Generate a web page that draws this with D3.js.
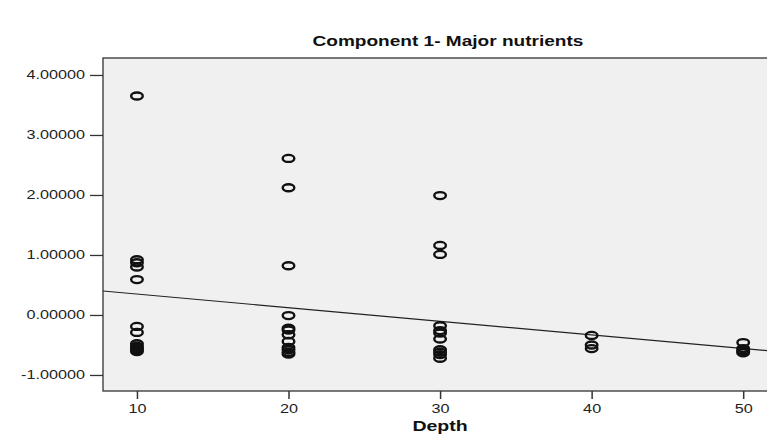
<!DOCTYPE html>
<html>
<head>
<meta charset="utf-8">
<script src="https://cdn.jsdelivr.net/npm/d3@7"></script>
<style>
  body { margin: 0; background: #fff; }
  svg { font-family: "Liberation Sans", Arial, sans-serif; }
</style>
</head>
<body>
<div id="chart"></div>
<script>
// depth groups and the component scores
var depths = [10, 20, 30, 40, 50];
var scores10 = [3.65, 0.92, 0.87, 0.80, 0.59, -0.19, -0.29, -0.48, -0.52, -0.55, -0.58, -0.61];
var scores20 = [2.61, 2.12, 0.82, -0.01, -0.22, -0.25, -0.33, -0.44, -0.54, -0.58, -0.62, -0.65];
var scores30 = [1.99, 1.16, 1.01, -0.18, -0.26, -0.30, -0.40, -0.58, -0.62, -0.66, -0.72];
var scores40 = [-0.34, -0.50, -0.56];
var scores50 = [-0.46, -0.56, -0.59, -0.61, -0.63];
var yTicks = [-1, 0, 1, 2, 3, 4];
var xTicks = [10, 20, 30, 40, 50];
// fit line (linear)
var fitIntercept = 0.576;
var fitSlope = -0.0227;

var title = "Component 1- Major nutrients";
var xTitle = "Depth";

var svgWidth = 767, svgHeight = 437;
var plot = { left: 103, top: 58, right: 772, bottom: 391 };

var svg = d3.select("#chart").append("svg")
  .attr("width", svgWidth)
  .attr("height", svgHeight);

var x = d3.scaleLinear().domain([7.76, 51.9]).range([plot.left, plot.right]);
var y = d3.scaleLinear().domain([-1.267, 4.283]).range([plot.bottom, plot.top]);

// the source picture is stretched sideways, so widen the text to match
function stretch(sel, factor) {
  sel.each(function() {
    var w = this.getComputedTextLength();
    d3.select(this)
      .attr("textLength", w * factor)
      .attr("lengthAdjust", "spacingAndGlyphs");
  });
}

// plot background
svg.append("rect")
  .attr("x", plot.left).attr("y", plot.top)
  .attr("width", plot.right - plot.left)
  .attr("height", plot.bottom - plot.top)
  .attr("fill", "#f0f0f0")
  .attr("stroke", "#333")
  .attr("stroke-width", 1.3);

// points
var allScores = [scores10, scores20, scores30, scores40, scores50];
var points = [];
depths.forEach(function(d, i) {
  allScores[i].forEach(function(v) { points.push({ depth: d, score: v }); });
});

svg.append("clipPath").attr("id", "plotclip")
  .append("rect")
  .attr("x", plot.left).attr("y", plot.top)
  .attr("width", plot.right - plot.left)
  .attr("height", plot.bottom - plot.top);

// fit line
svg.append("line")
  .attr("clip-path", "url(#plotclip)")
  .attr("x1", x(x.domain()[0])).attr("y1", y(fitIntercept + fitSlope * x.domain()[0]))
  .attr("x2", x(x.domain()[1])).attr("y2", y(fitIntercept + fitSlope * x.domain()[1]))
  .attr("stroke", "#222")
  .attr("stroke-width", 1.2);

svg.append("g").selectAll("ellipse")
  .data(points)
  .enter()
  .append("ellipse")
  .attr("cx", d => x(d.depth))
  .attr("cy", d => y(d.score))
  .attr("rx", 5.8)
  .attr("ry", 3.5)
  .attr("fill", "none")
  .attr("stroke", "#111")
  .attr("stroke-width", 2.4);

// y axis
var leftAxis = d3.axisLeft(y)
  .tickValues(yTicks)
  .tickSize(13)
  .tickPadding(5)
  .tickFormat(d3.format(".5f"));

var yAxis = svg.append("g")
  .attr("transform", `translate(${plot.left}, 0)`)
  .call(leftAxis);
yAxis.select(".domain").remove();
yAxis.selectAll("line").attr("stroke", "#333").attr("stroke-width", 1.3);
yAxis.selectAll("text").attr("font-size", 12).attr("fill", "#222")
  .text(d => (d < 0 ? "-" : "") + d3.format(".5f")(Math.abs(d)));
stretch(yAxis.selectAll("text"), 1.35);

// x axis
var bottomAxis = d3.axisBottom(x)
  .tickValues(xTicks)
  .tickSize(8)
  .tickPadding(5)
  .tickFormat(d3.format("d"));

var xAxis = svg.append("g")
  .attr("transform", `translate(0, ${plot.bottom})`)
  .call(bottomAxis);
xAxis.select(".domain").remove();
xAxis.selectAll("line").attr("stroke", "#333").attr("stroke-width", 1.5);
xAxis.selectAll("text").attr("font-size", 12).attr("fill", "#222");
stretch(xAxis.selectAll("text"), 1.35);

// titles
var titleText = svg.append("text")
  .attr("x", 448).attr("y", 46)
  .attr("text-anchor", "middle")
  .attr("font-size", 15)
  .attr("font-weight", "bold")
  .attr("fill", "#111")
  .text(title);
stretch(titleText, 1.27);

var xTitleText = svg.append("text")
  .attr("x", 440).attr("y", 431)
  .attr("text-anchor", "middle")
  .attr("font-size", 15)
  .attr("font-weight", "bold")
  .attr("fill", "#111")
  .text(xTitle);
stretch(xTitleText, 1.3);
</script>
</body>
</html>
